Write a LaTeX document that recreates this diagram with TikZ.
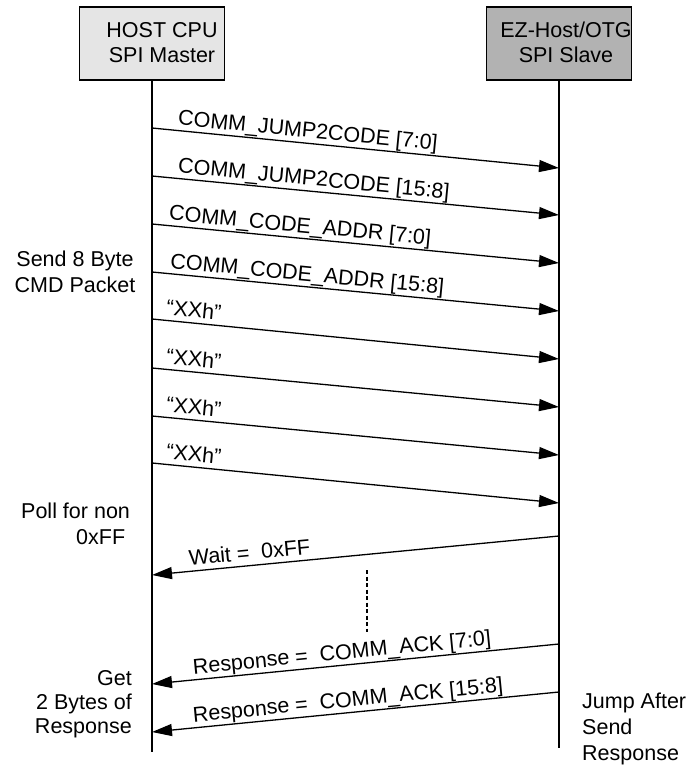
\documentclass[tikz,border=0pt]{standalone}
\usepackage{fontspec}
\setmainfont{Liberation Sans}
\usetikzlibrary{arrows.meta}
\begin{document}
\begin{tikzpicture}[x=1pt,y=-1pt,
  every node/.style={font=\fontsize{21.5}{25}\selectfont, inner sep=0pt},
  actor/.style={draw, line width=1.5pt, minimum width=145pt, minimum height=73pt},
  actortext/.style={anchor=south, align=center, font=\fontsize{21.5}{25}\selectfont},
  life/.style={line width=1.3pt},
  msg/.style={line width=1.3pt, -{Triangle[length=20pt,width=12pt]}},
  lbl/.style={sloped, anchor=south west, inner sep=0.5pt, text depth=4.5pt},
  side/.style={font=\fontsize{21.5}{26}\selectfont}
]
\useasboundingbox (0,0) rectangle (695,765);
% actors
\node[actor, fill=gray!20] (host) at (152,43.5) {};
\node[actortext] (hostlbl) at (162,62.5) {HOST CPU\\SPI Master};
\node[actor, fill=gray!60] (ez) at (559,43.5) {};
\node[actortext] (ezlbl) at (566,62.5) {EZ-Host/OTG\\SPI Slave};
% lifelines
\coordinate (hostend) at (152,752);
\coordinate (ezend) at (559,748);
\draw[life] (host.south) -- (hostend);
\draw[life] (ez.south) -- (ezend);
% message end points
\coordinate (L1) at (152,128); \coordinate (R1) at (559,168);
\coordinate (L2) at (152,176); \coordinate (R2) at (559,215);
\coordinate (L3) at (152,224); \coordinate (R3) at (559,263);
\coordinate (L4) at (152,272); \coordinate (R4) at (559,311);
\coordinate (L5) at (152,319); \coordinate (R5) at (559,359);
\coordinate (L6) at (152,368); \coordinate (R6) at (559,407);
\coordinate (L7) at (152,416); \coordinate (R7) at (559,455);
\coordinate (L8) at (152,463); \coordinate (R8) at (559,503);
\coordinate (R9) at (559,536); \coordinate (L9) at (152,575);
\coordinate (R10) at (559,644); \coordinate (L10) at (152,684);
\coordinate (R11) at (559,692); \coordinate (L11) at (152,732);
% host -> slave
\draw[msg] (L1) -- node[lbl, pos=0.059] {COMM\_JUMP2CODE [7:0]} (R1);
\draw[msg] (L2) -- node[lbl, pos=0.059] {COMM\_JUMP2CODE [15:8]} (R2);
\draw[msg] (L3) -- node[lbl, pos=0.037] {COMM\_CODE\_ADDR [7:0]} (R3);
\draw[msg] (L4) -- node[lbl, pos=0.040] {COMM\_CODE\_ADDR [15:8]} (R4);
\draw[msg] (L5) -- node[lbl, pos=0.030] {“XXh”} (R5);
\draw[msg] (L6) -- node[lbl, pos=0.030] {“XXh”} (R6);
\draw[msg] (L7) -- node[lbl, pos=0.030] {“XXh”} (R7);
\draw[msg] (L8) -- node[lbl, pos=0.030] {“XXh”} (R8);
% slave -> host
\draw[msg] (R9) -- node[lbl, pos=0.909] {Wait =~~0xFF} (L9);
\coordinate (d1) at (367,570); \coordinate (d2) at (367,632);
\draw[line width=1.2pt, dash pattern=on 4pt off 2.5pt] (d1) -- (d2);
\draw[msg] (R10) -- node[lbl, pos=0.899] {Response =~~COMM\_ACK [7:0]} (L10);
\draw[msg] (R11) -- node[lbl, pos=0.899] {Response =~~COMM\_ACK [15:8]} (L11);
% side notes
\node[side, anchor=north, align=center] (send) at (75,250.5) {Send 8 Byte\\CMD Packet};
\node[side, anchor=north west, align=left] (poll) at (21,502.5) {Poll for non\\\hspace*{55pt}0xFF};
\node[side, anchor=north east, align=right, font=\fontsize{21.5}{24}\selectfont] (get) at (132,670.5) {Get\\2 Bytes of\\Response};
\node[side, anchor=north west, align=left] (jump) at (582,692.5) {Jump After\\Send\\Response};
\end{tikzpicture}
\end{document}
